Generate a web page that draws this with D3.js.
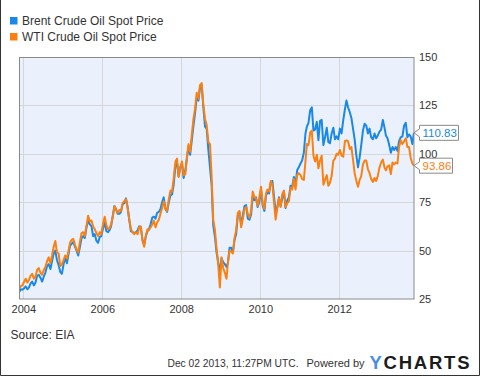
<!DOCTYPE html>
<html><head><meta charset="utf-8">
<script src="https://cdn.jsdelivr.net/npm/d3@7"></script>
<style>
body{margin:0;background:#fff}
svg{display:block;font-family:Arial,"Liberation Sans",sans-serif}
</style></head>
<body><svg id="c" width="480" height="376"></svg>
<script>
const seriesNames = ["Brent Crude Oil Spot Price", "WTI Crude Oil Spot Price"];
const startDate = "2003-11-28";
const endDate = "2013-11-22";
// semi-monthly readings: start, then 8th & 23rd of each month Dec 2003 .. Nov 2013
const brent = [
  28.8, 30.0, 29.8,
  30.5,31.5, 30.0,31.0, 33.0,34.0, 32.0,33.5, 37.0,37.5, 36.0,34.0, 36.5,38.5, 42.0,43.0, 40.5,44.5, 48.5,50.0, 45.0,42.5, 39.0,38.0,
  43.0,46.5, 43.5,48.5, 52.5,53.5, 54.5,52.0, 50.0,47.5, 52.0,56.5, 57.5,56.5, 62.0,65.5, 63.5,62.5, 57.5,58.5, 55.0,54.0, 57.0,57.5,
  61.5,64.5, 60.0,59.5, 60.5,62.5, 68.0,73.0, 71.5,69.0, 69.0,70.0, 74.0,74.5, 77.0,72.5, 65.5,60.0, 59.5,59.0, 59.5,60.5, 62.5,62.0,
  55.5,53.0, 57.5,60.0, 61.0,63.5, 67.0,67.5, 66.5,69.5, 70.0,71.5, 75.0,77.5, 71.5,70.0, 75.0,78.5, 79.0,84.0, 93.5,95.5, 88.5,93.0,
  95.0,87.5, 91.5,98.0, 103.5,99.5, 107.0,114.5, 121.0,129.0, 127.5,134.5, 135.5,124.5, 114.0,113.0, 102.0,93.0, 84.0,63.0, 57.0,49.0, 44.0,39.0,
  46.0,44.0, 43.0,41.5, 43.5,51.5, 51.5,49.0, 55.5,58.5, 68.5,69.5, 63.5,68.0, 73.0,73.5, 66.5,66.0, 68.5,78.0, 76.0,77.5, 72.5,75.0,
  81.5,73.5, 70.5,78.5, 80.0,79.5, 85.0,86.0, 78.0,70.0, 72.5,77.5, 73.0,77.0, 80.5,72.0, 76.0,77.5, 83.5,83.0, 88.0,84.0, 91.5,93.0,
  95.0,96.5, 100.5,110.5, 114.0,116.0, 122.5,124.0, 112.0,112.5, 116.5,107.0, 117.0,117.5, 104.5,108.5, 113.5,106.0, 105.5,110.5, 113.5,107.5, 109.0,107.5,
  113.0,110.5, 117.5,123.0, 127.5,124.0, 121.5,118.5, 113.0,107.5, 99.0,93.0, 98.0,104.5, 112.0,115.5, 114.5,110.5, 113.0,108.5, 107.5,110.5, 108.0,109.5,
  111.5,112.5, 117.5,113.5, 109.5,108.0, 104.5,100.5, 103.5,102.0, 103.5,101.5, 106.5,108.5, 109.0,114.5, 116.0,108.5, 110.0,109.0, 105.0,110.83
];
const wti = [
  30.5, 31.5, 32.0,
  33.8,35.5, 33.5,35.0, 37.0,38.0, 35.5,36.5, 40.0,41.0, 38.5,37.5, 40.0,41.5, 44.5,46.5, 43.5,47.5, 52.0,55.0, 49.0,48.5, 42.0,43.0,
  45.0,47.5, 46.0,50.0, 54.0,55.5, 56.0,53.0, 50.5,49.0, 54.5,59.0, 59.5,57.5, 63.0,68.0, 65.0,65.5, 62.5,61.0, 59.0,57.5, 59.5,58.5,
  64.0,67.5, 63.0,61.0, 61.5,63.5, 67.5,73.0, 71.0,69.5, 71.0,70.5, 74.5,75.5, 76.5,72.0, 66.0,61.0, 59.5,58.5, 59.5,58.5, 62.0,62.5,
  55.0,52.0, 58.0,61.0, 60.5,62.0, 63.5,65.5, 62.0,64.5, 66.0,69.0, 72.0,75.5, 71.5,70.5, 76.5,81.0, 80.5,87.0, 96.0,97.5, 88.0,93.0,
  96.0,89.0, 89.5,98.5, 105.0,101.0, 110.0,118.0, 123.5,131.5, 128.5,135.5, 136.5,125.5, 118.0,115.0, 106.0,105.0, 88.5,66.0, 60.5,51.0, 43.0,31.0,
  46.5,41.0, 38.5,35.5, 44.0,50.0, 49.5,48.5, 56.5,60.5, 69.5,70.5, 62.0,66.0, 71.5,72.5, 69.0,67.0, 70.5,80.5, 77.5,77.0, 73.0,77.5,
  83.0,74.5, 71.5,79.5, 81.5,80.5, 86.0,84.0, 75.0,66.0, 72.0,77.0, 72.5,79.0, 81.0,72.5, 74.5,75.5, 82.5,81.5, 87.0,81.5, 89.0,90.0,
  89.0,87.0, 86.5,96.0, 105.0,104.5, 111.0,112.0, 99.0,96.0, 99.5,92.5, 96.5,99.0, 84.0,86.5, 89.0,83.5, 85.0,88.5, 96.5,97.5, 100.0,99.5,
  102.0,99.0, 98.5,106.5, 107.0,106.5, 102.5,103.5, 97.0,90.0, 86.0,83.0, 86.5,88.5, 94.5,96.5, 96.5,92.0, 90.0,87.0, 85.5,87.5, 86.0,88.5,
  93.0,95.5, 97.0,93.0, 91.5,93.5, 94.0,89.5, 95.5,94.5, 95.5,95.0, 103.5,107.0, 105.0,106.5, 108.0,103.5, 103.5,98.0, 95.0,93.86
];
const yTicks = [25, 50, 75, 100, 125, 150];
const xTickYears = [2004, 2006, 2008, 2010, 2012];
const colors = ["#1a88e6", "#fb8010"];

const parse = d3.timeParse("%Y-%m-%d");
const dates = [parse(startDate)];
d3.timeMonth.range(new Date(2003, 11, 1), new Date(2013, 11, 1)).forEach(m => {
  dates.push(new Date(m.getFullYear(), m.getMonth(), 8));
  dates.push(new Date(m.getFullYear(), m.getMonth(), 23));
});
dates[dates.length - 1] = parse(endDate);

const L = 19.5, R = 414, T = 57, B = 299;
const x = d3.scaleTime().domain([new Date(2003, 10, 27), new Date(2013, 10, 23)]).range([L, R]);
const y = d3.scaleLinear().domain([25, 150]).range([B, T]);

const svg = d3.select("#c");
svg.append("rect").attr("width", 480).attr("height", 376).attr("fill", "#fff");
// outer frame
svg.append("path").attr("d", "M0.5,0 V375.5 H479.5 V0").attr("fill", "none").attr("stroke", "#333");

// plot background
svg.append("rect").attr("x", L).attr("y", T).attr("width", R - L).attr("height", B - T).attr("fill", "#eaf1fc");

// gridlines
const grid = svg.append("g").attr("stroke", "#d6d6d6").attr("stroke-width", 1);
yTicks.filter(v => v > 25 && v < 150).forEach(v => {
  grid.append("line").attr("x1", L).attr("x2", R).attr("y1", Math.round(y(v)) + 0.5).attr("y2", Math.round(y(v)) + 0.5);
});
xTickYears.forEach(yr => {
  const xx = Math.round(x(new Date(yr, 0, 1))) + 0.5;
  grid.append("line").attr("x1", xx).attr("x2", xx).attr("y1", T).attr("y2", B);
});

// clip
svg.append("clipPath").attr("id", "clip").append("rect").attr("x", L).attr("y", T).attr("width", R - L).attr("height", B - T);

const line = d3.line().x((d, i) => x(dates[i])).y(d => y(d));
[brent, wti].forEach((s, k) => {
  svg.append("path").datum(s).attr("d", line).attr("fill", "none")
    .attr("stroke", colors[k]).attr("stroke-width", 2).attr("stroke-linejoin", "round")
    .attr("clip-path", "url(#clip)");
});

// plot border
svg.append("rect").attr("x", L).attr("y", T + 0.5).attr("width", R - L).attr("height", B - T - 0.5)
  .attr("fill", "none").attr("stroke", "#8a8a8a");

// y axis (right)
const ya = svg.append("g").attr("transform", `translate(${R},0)`)
  .call(d3.axisRight(y).tickValues(yTicks).tickSize(0).tickPadding(5).tickFormat(d3.format("d")));
ya.select(".domain").remove();
ya.selectAll("text").attr("font-size", 11).attr("fill", "#333").attr("font-family", "Arial, 'Liberation Sans', sans-serif");

// x axis
const xa = svg.append("g").attr("transform", `translate(0,${B})`)
  .call(d3.axisBottom(x).tickValues(xTickYears.map(yr => new Date(yr, 0, 1))).tickSize(0).tickPadding(6).tickFormat(d3.timeFormat("%Y")));
xa.select(".domain").remove();
xa.selectAll("text").attr("font-size", 11).attr("fill", "#333").attr("font-family", "Arial, 'Liberation Sans', sans-serif");

// end labels
const lastVals = [brent[brent.length - 1], wti[wti.length - 1]];
lastVals.forEach((v, k) => {
  const cy = y(v);
  const txt = v.toFixed(2);
  const w = txt.length > 5 ? 39 : 33;
  const g = svg.append("g");
  g.append("path")
    .attr("d", `M${R + 5.5},${cy - 7.5} H${R + 5.5 + w} V${cy + 7.5} H${R + 5.5} V${cy + 4} L${R},${cy} L${R + 5.5},${cy - 4} Z`)
    .attr("fill", "#fff").attr("stroke", "#8a8a8a");
  g.append("text").attr("x", R + 8.5).attr("y", cy).attr("dy", "0.35em")
    .attr("font-size", 11.5).attr("fill", colors[k]).text(txt);
});

// legend
seriesNames.forEach((n, k) => {
  svg.append("rect").attr("x", 10).attr("y", 17 + k * 16).attr("width", 7.5).attr("height", 7.5).attr("fill", colors[k]);
  svg.append("text").attr("x", 22).attr("y", 25 + k * 16).attr("font-size", 12).attr("fill", "#333").text(n);
});

// footer
svg.append("text").attr("x", 10.5).attr("y", 339).attr("font-size", 12).attr("fill", "#333").text("Source: EIA");
svg.append("text").attr("x", 167.5).attr("y", 367).attr("font-size", 11)
  .attr("textLength", 131).attr("lengthAdjust", "spacingAndGlyphs").attr("fill", "#333").text("Dec 02 2013, 11:27PM UTC.");
svg.append("text").attr("x", 306.5).attr("y", 367).attr("font-size", 11)
  .attr("textLength", 58).attr("lengthAdjust", "spacingAndGlyphs").attr("fill", "#333").text("Powered by");
const logo = svg.append("text").attr("x", 369.5).attr("y", 368.5).attr("font-size", 18.5).attr("font-weight", "bold")
  .attr("textLength", 100).attr("lengthAdjust", "spacing");
logo.append("tspan").attr("fill", "#4a8fe2").text("Y");
logo.append("tspan").attr("fill", "#1c1c1c").text("CHARTS");
</script></body></html>
